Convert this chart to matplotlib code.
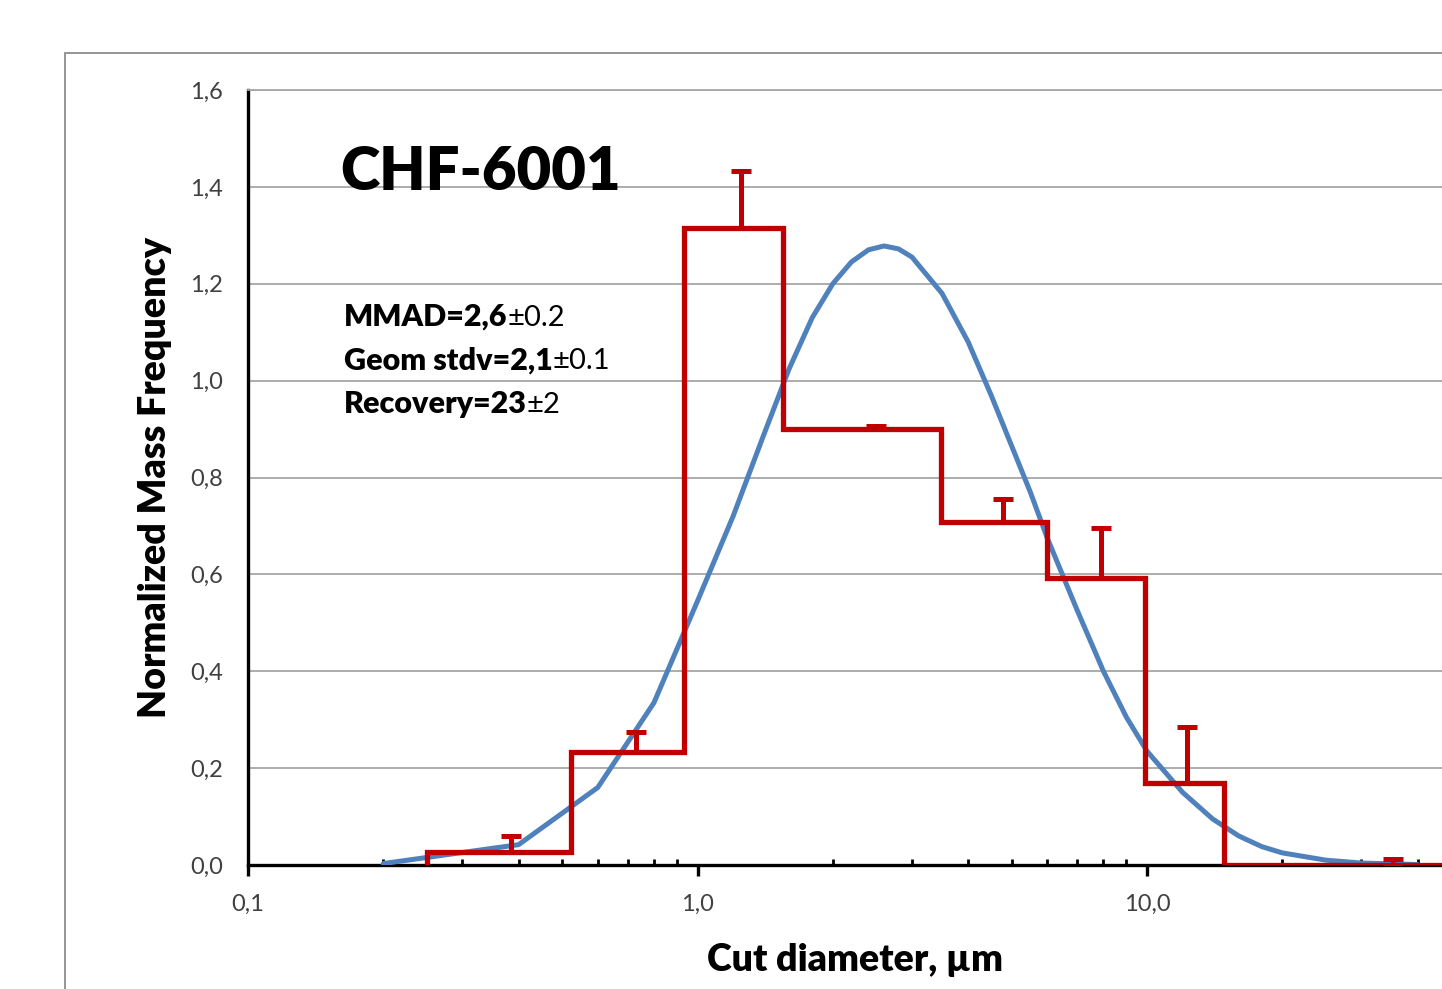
import matplotlib

matplotlib.use("Agg")
import matplotlib.pyplot as plt
from matplotlib.patches import Rectangle
from matplotlib.ticker import LogLocator, NullFormatter

plt.rcParams["font.family"] = ["Lato", "DejaVu Sans"]

# measured stage data (step histogram), bin edges in um
bin_edges = [0.25, 0.523, 0.933, 1.55, 3.48, 5.99, 9.9, 14.8, 60.0]
bin_values = [0.027, 0.233, 1.315, 0.900, 0.708, 0.593, 0.169, 0.0]

# upper error bars
err_x = [0.385, 0.73, 1.25, 2.5, 4.78, 7.9, 12.3, 35.3]
err_y = [0.027, 0.233, 1.315, 0.900, 0.708, 0.593, 0.169, 0.0]
err_top = [0.060, 0.275, 1.433, 0.906, 0.756, 0.696, 0.285, 0.012]

# fitted curve
fit_x = [0.2, 0.4, 0.6, 0.8, 1.0, 1.2, 1.4, 1.6, 1.8, 2.0, 2.2, 2.4, 2.6, 2.8,
         3.0, 3.5, 4.0, 4.5, 5.0, 5.5, 6.0, 7.0, 8.0, 9.0, 10.0, 12.0, 14.0,
         16.0, 18.0, 20.0, 25.0, 30.0, 40.0]
fit_y = [0.003, 0.042, 0.160, 0.335, 0.545, 0.720, 0.885, 1.025, 1.130, 1.200,
         1.245, 1.270, 1.278, 1.272, 1.255, 1.180, 1.080, 0.970, 0.865, 0.770,
         0.675, 0.525, 0.400, 0.305, 0.235, 0.150, 0.095, 0.060, 0.038, 0.025,
         0.010, 0.004, 0.001]

x_ticks = [0.1, 1.0, 10.0]
x_tick_labels = ["0,1", "1,0", "10,0"]
y_ticks = [0.0, 0.2, 0.4, 0.6, 0.8, 1.0, 1.2, 1.4, 1.6]
y_tick_labels = ["0,0", "0,2", "0,4", "0,6", "0,8", "1,0", "1,2", "1,4", "1,6"]

title = "CHF-6001"
stats = [("MMAD=2,6", "\u00b10.2"), ("Geom stdv=2,1", "\u00b10.1"), ("Recovery=23", "\u00b12")]

RED = "#C00000"
BLUE = "#4F81BD"
TICK_COLOR = "#404040"

W, H = 1442, 989
fig = plt.figure(figsize=(W / 100, H / 100), dpi=100)
fig.patch.set_facecolor("white")

# outer chart border (cropped on right/bottom)
fig.add_artist(Rectangle((65 / W, -0.05), 1.2, 1.0 - 53 / H + 0.05,
                         transform=fig.transFigure, fill=False,
                         edgecolor="#8c8c8c", linewidth=1.3, clip_on=False))

ax = fig.add_axes([248 / W, (H - 865) / H, (W - 248) / W, 775 / H])
ax.set_xscale("log")
ax.set_xlim(0.1, 10 ** ((W - 248) / 449.5 - 1))
ax.set_ylim(0, 1.6)

ax.grid(axis="y", color="#a6a6a6", linewidth=1.3, zorder=0)
ax.set_axisbelow(True)

ax.plot(fit_x, fit_y, color=BLUE, linewidth=3.6, zorder=3, solid_capstyle="round")
ax.stairs(bin_values, bin_edges, baseline=0, color=RED, linewidth=3.8, zorder=4)
err_up = [t - v for t, v in zip(err_top, err_y)]
ax.errorbar(err_x, err_y, yerr=[[0] * len(err_y), err_up], fmt="none",
            ecolor=RED, elinewidth=3.6, capsize=7, capthick=3.6, zorder=4)

ax.spines["right"].set_visible(False)
ax.spines["top"].set_color("#a6a6a6")
ax.spines["top"].set_linewidth(1.3)
ax.spines["left"].set_linewidth(2.4)
ax.spines["bottom"].set_linewidth(2.4)
ax.spines["bottom"].set_zorder(2)

ax.set_xticks(x_ticks)
ax.set_xticklabels(x_tick_labels)
ax.xaxis.set_minor_locator(LogLocator(base=10, subs=range(2, 10)))
ax.xaxis.set_minor_formatter(NullFormatter())
ax.tick_params(axis="x", which="major", direction="out", length=8, width=2.4,
               pad=13, labelsize=17, labelcolor=TICK_COLOR)
ax.tick_params(axis="x", which="minor", direction="in", length=4, width=2)
ax.set_yticks(y_ticks)
ax.set_yticklabels(y_tick_labels)
ax.tick_params(axis="y", length=0, pad=18, labelsize=17, labelcolor=TICK_COLOR)

ax.set_ylabel("Normalized Mass Frequency", fontsize=27, fontweight="heavy")
ax.yaxis.set_label_coords(-0.064, 0.5)
ax.set_xlabel("Cut diameter, \u00b5m", fontsize=27, fontweight="heavy")
ax.xaxis.set_label_coords(0.508, -0.101)

ax.text(0.077, 0.894, title, transform=ax.transAxes, fontsize=43,
        fontweight="heavy", ha="left", va="center")

y0 = 0.7071
for i, (bold_part, plain_part) in enumerate(stats):
    t = ax.text(0.0804, y0 - i * 0.0561, bold_part, transform=ax.transAxes,
                fontsize=22, fontweight="heavy", ha="left", va="center")
    ax.annotate(plain_part, xy=(1, 0), xycoords=t, fontsize=21,
                ha="left", va="bottom")

fig.savefig("out.png", dpi=100)
